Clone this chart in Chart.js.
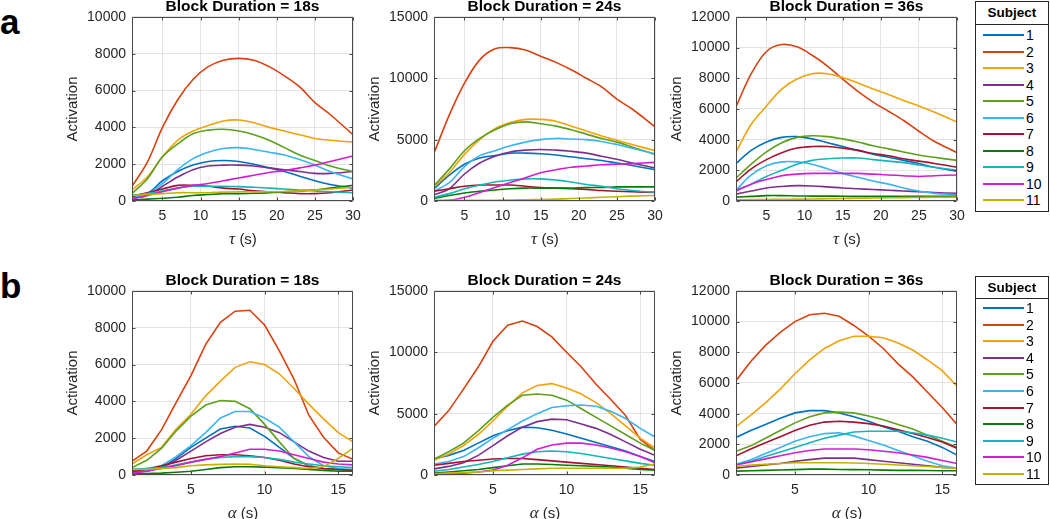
<!DOCTYPE html>
<html><head><meta charset="utf-8">
<script src="https://cdn.jsdelivr.net/npm/chart.js@4/dist/chart.umd.min.js"></script>
<style>
body{margin:0;background:#fff;width:1050px;height:519px;position:relative;overflow:hidden;font-family:'Liberation Sans',Arial,sans-serif;color:#262626}
canvas.pc{position:absolute}
.xt{position:absolute;font-size:15px;transform:translate(-50%,-50%);white-space:nowrap;line-height:1}
.xt i{font-family:'Liberation Serif','DejaVu Serif',serif;font-size:17px}
.lab{position:absolute;font-weight:bold;font-size:35px;line-height:1;left:0;color:#000}
.leg{position:absolute;left:975px;width:74px;box-sizing:border-box;border:1px solid #262626;background:#fff}
.leg .hd{position:absolute;left:0;right:0;top:0;border-bottom:1px solid #262626;text-align:center;font-weight:bold;font-size:13.5px;color:#000;box-sizing:border-box}
.leg .ln{position:absolute;left:7px;width:41px;height:2px}
.leg .tx{position:absolute;left:50px;font-size:14px;line-height:1;transform:translateY(-50%);color:#000}
</style></head>
<body>
<div class="lab" style="top:4px">a</div>
<div class="lab" style="top:268px">b</div>
<canvas class="pc" id="c0" width="357" height="230" style="left:64px;top:0px"></canvas>
<canvas class="pc" id="c1" width="357" height="230" style="left:366px;top:0px"></canvas>
<canvas class="pc" id="c2" width="357" height="230" style="left:668px;top:0px"></canvas>
<canvas class="pc" id="c3" width="357" height="230" style="left:64px;top:274px"></canvas>
<canvas class="pc" id="c4" width="357" height="230" style="left:366px;top:274px"></canvas>
<canvas class="pc" id="c5" width="357" height="230" style="left:668px;top:274px"></canvas>
<div class="xt" style="left:243px;top:238px"><i>τ</i> (s)</div>
<div class="xt" style="left:545px;top:238px"><i>τ</i> (s)</div>
<div class="xt" style="left:847px;top:238px"><i>τ</i> (s)</div>
<div class="xt" style="left:243px;top:512px"><i>α</i> (s)</div>
<div class="xt" style="left:545px;top:512px"><i>α</i> (s)</div>
<div class="xt" style="left:847px;top:512px"><i>α</i> (s)</div>
<script>
const subjects = ['1','2','3','4','5','6','7','8','9','10','11'];
const colors = ['#0072BD','#D9400F','#F0A30A','#7E2F8E','#5E9F1E','#3CB4F0','#A2142F','#0B7A0B','#16B5B8','#D21ED2','#C2B500'];
const titles = ['Block Duration = 18s','Block Duration = 24s','Block Duration = 36s'];
const tauX = [1,3,5,7,9,11,13,15,17,19,21,23,25,27,30];
const alphaX = [1,2,3,4,5,6,7,8,9,10,11,12,13,14,15,16];
const tauTicks = [5,10,15,20,25,30];
const alphaTicks = [5,10,15];
const yMax = [10000,15000,12000];
const yStep = [2000,5000,2000];

const tau18 = [
 [200,400,1100,1600,1950,2150,2200,2150,2000,1800,1600,1350,1100,900,700],
 [800,2100,4000,5500,6600,7300,7650,7750,7650,7300,6800,6200,5350,4700,3600],
 [600,1300,2400,3300,3800,4100,4350,4400,4250,4000,3800,3600,3400,3300,3200],
 [150,300,800,1300,1700,1900,1950,1950,1900,1800,1700,1600,1500,1500,1600],
 [400,1200,2400,3100,3650,3850,3900,3800,3600,3300,2900,2500,2200,1900,1600],
 [200,400,950,1700,2300,2650,2850,2900,2800,2650,2500,2250,1950,1600,1200],
 [250,450,650,850,850,800,700,650,550,500,450,400,400,450,600],
 [50,100,150,200,300,350,400,400,420,450,500,550,600,700,850],
 [300,400,550,700,800,800,800,780,750,700,650,600,550,500,450],
 [100,300,500,700,850,950,1100,1250,1400,1550,1650,1800,1950,2150,2450],
 [300,350,400,450,450,450,480,500,500,500,520,550,600,650,750]
];
const tau24 = [
 [1000,2100,3000,3500,3700,3900,3900,3850,3750,3600,3450,3300,3100,2900,2550],
 [3900,7000,9600,11500,12400,12500,12300,11800,11300,10700,10000,9300,8300,7500,6050],
 [1150,2300,3800,5000,5900,6400,6650,6650,6500,6100,5700,5300,4950,4600,4100],
 [500,1000,2200,3100,3650,4000,4150,4200,4150,4050,3900,3650,3400,3100,2700],
 [1250,2600,4100,5100,5800,6300,6450,6300,6100,5800,5450,5100,4800,4400,3800],
 [800,1500,2800,3700,4100,4500,4800,5000,5100,5050,5000,4850,4600,4300,3850],
 [800,1000,1200,1300,1300,1300,1200,1100,1050,1000,950,850,800,750,700],
 [200,450,650,800,900,1000,1050,1050,1050,1050,1100,1100,1150,1150,1150],
 [300,600,1000,1300,1550,1700,1800,1800,1700,1550,1350,1200,1000,850,700],
 [0,50,300,700,1100,1500,1900,2300,2550,2750,2850,2950,3000,3050,3150],
 [50,50,50,50,60,80,100,120,150,200,250,300,350,400,450]
];
const tau36 = [
 [2450,3300,3850,4150,4200,4050,3800,3550,3300,3050,2850,2650,2450,2200,1950],
 [6150,8300,9750,10200,10050,9500,8800,7950,7150,6450,5850,5250,4550,3900,3150],
 [3200,5000,6200,7300,7950,8300,8300,8050,7700,7300,6950,6550,6200,5800,5150],
 [450,650,850,950,1000,980,920,850,800,750,700,650,600,550,500],
 [1500,2400,3200,3800,4150,4250,4200,4050,3850,3600,3400,3200,3000,2850,2650],
 [700,1700,2300,2550,2550,2400,2100,1800,1550,1300,1100,850,650,500,400],
 [1250,2100,2700,3150,3450,3550,3550,3450,3300,3100,2950,2750,2600,2450,2200],
 [250,300,350,350,330,320,320,310,300,300,300,300,300,300,300],
 [700,1100,1600,2000,2400,2650,2750,2800,2800,2700,2600,2500,2350,2200,2000],
 [650,1100,1400,1650,1750,1800,1800,1800,1800,1750,1700,1650,1600,1650,1700],
 [80,90,100,110,120,130,150,160,180,200,210,220,230,240,250]
];
const alpha18 = [
 [200,300,400,900,1500,2000,2500,2650,2550,2100,1500,900,500,350,300,250],
 [750,1300,2450,3950,5400,7100,8300,8900,8950,8150,6750,5200,3250,2050,1200,850],
 [600,1100,1500,2500,3300,4300,5100,5850,6150,6000,5500,4700,3850,3050,2300,1800],
 [150,200,400,800,1300,1800,2250,2600,2750,2600,2300,1800,1300,950,750,750],
 [400,800,1450,2400,3200,3800,4050,4000,3600,2750,1800,900,500,350,300,250],
 [300,350,500,1000,1600,2300,3100,3450,3450,3100,2600,1800,1000,500,350,300],
 [200,300,500,700,900,1050,1100,1100,1050,950,800,600,450,350,300,250],
 [50,80,100,150,200,300,400,450,450,430,400,350,300,250,200,200],
 [300,350,400,550,700,850,950,1000,1000,950,850,700,600,500,450,400],
 [100,200,350,500,700,850,1000,1200,1400,1400,1300,1100,900,700,600,550],
 [300,300,350,400,500,550,580,600,580,500,450,400,350,450,900,1450]
];
const alpha24 = [
 [1300,1600,2000,2600,3200,3600,3900,3850,3650,3350,3000,2650,2300,1950,1500,1100],
 [3950,5250,7000,8800,10900,12200,12550,12100,11250,10000,8800,7400,6150,4850,2900,2000],
 [1200,1700,2400,3300,4400,5600,6700,7300,7450,7100,6600,5900,5000,4000,3000,2200],
 [500,700,1000,1600,2400,3200,3900,4350,4550,4500,4150,3800,3300,2700,2100,1600],
 [1300,1900,2600,3600,4700,5700,6500,6600,6500,6100,5400,4700,4000,3300,2600,2000],
 [900,1100,1500,2200,3000,3700,4400,5000,5500,5650,5700,5600,5200,4600,3800,3100],
 [800,950,1100,1200,1300,1350,1350,1250,1150,1050,950,850,750,650,550,450],
 [150,250,350,450,600,750,900,900,850,800,750,700,650,550,450,400],
 [300,450,650,850,1100,1400,1700,1900,1950,1900,1750,1550,1350,1150,950,800],
 [50,80,150,250,400,800,1400,2100,2450,2600,2600,2450,2200,1900,1500,1000],
 [100,150,200,250,350,400,450,500,550,550,550,550,550,550,650,900]
];
const alpha36 = [
 [2450,2900,3300,3700,4050,4200,4200,4050,3800,3500,3150,2850,2500,2200,1800,1300],
 [6150,7400,8450,9300,10000,10450,10550,10350,9750,9050,8250,7250,6400,5400,4400,3300],
 [3150,3900,4700,5600,6600,7500,8250,8750,9050,9050,8950,8600,8150,7500,6800,5800],
 [450,550,650,750,900,1000,1100,1100,1100,1000,900,800,700,600,500,450],
 [1550,1900,2400,2900,3400,3800,4050,4100,4050,3850,3600,3300,3000,2600,2200,1800],
 [700,1000,1400,1800,2200,2500,2700,2750,2550,2250,1950,1600,1250,900,600,450],
 [1250,1700,2100,2500,2900,3250,3450,3500,3450,3350,3200,2950,2700,2450,2150,1750],
 [250,280,300,330,350,380,380,360,350,340,320,300,300,290,280,280],
 [700,900,1200,1500,1800,2100,2400,2600,2800,2850,2850,2850,2750,2600,2400,2150],
 [650,850,1050,1250,1450,1600,1700,1700,1700,1650,1550,1450,1300,1150,950,750],
 [550,650,700,750,800,800,800,800,780,750,700,650,600,550,500,450]
];

const FONT = "'Liberation Sans', Arial, sans-serif";
const TXT = '#262626';
const GRID = '#e4e4e4';
const AXC = '#4a4a4a';

const boxPlugin = {
  id: 'box',
  afterDatasetsDraw(chart) {
    const {ctx, chartArea: a} = chart;
    const xs = chart.scales.x, ys = chart.scales.y;
    ctx.save();
    ctx.strokeStyle = AXC; ctx.lineWidth = 1;
    const L = Math.round(a.left) + 0.5, R = Math.round(a.right) - 0.5;
    const T = Math.round(a.top) + 0.5, B = Math.round(a.bottom) - 0.5;
    ctx.beginPath();
    ctx.rect(L, T, R - L, B - T);
    xs.ticks.forEach(t => { const p = Math.round(xs.getPixelForValue(t.value)) + 0.5;
      ctx.moveTo(p, B); ctx.lineTo(p, B - 3); ctx.moveTo(p, T); ctx.lineTo(p, T + 3); });
    ys.ticks.forEach(t => { const p = Math.round(ys.getPixelForValue(t.value)) + 0.5;
      ctx.moveTo(L, p); ctx.lineTo(L + 3, p); ctx.moveTo(R, p); ctx.lineTo(R - 3, p); });
    ctx.stroke();
    ctx.restore();
  }
};

function makeChart(id, xs, rows, xMin, xMax, xTicks, ymax, ystep, title, tension) {
  const datasets = rows.map((r, i) => ({
    label: subjects[i],
    data: r.map((v, j) => ({x: xs[j], y: v})),
    borderColor: colors[i], backgroundColor: colors[i],
    borderWidth: 1.6, pointRadius: 0, tension: tension, fill: false,
    order: subjects.length - i
  }));
  new Chart(document.getElementById(id), {
    type: 'line',
    data: {datasets},
    options: {
      responsive: false, animation: false,
      layout: {padding: 0},
      plugins: {
        legend: {display: false}, tooltip: {enabled: false},
        title: {display: true, text: title, color: '#000',
          font: {family: FONT, size: 15.5, weight: 'bold', lineHeight: 0.92},
          padding: {top: 0, bottom: 2.7}}
      },
      scales: {
        x: {type: 'linear', min: xMin, max: xMax,
          afterBuildTicks: s => { s.ticks = xTicks.map(v => ({value: v})); },
          afterFit: s => { s.height = 29; },
          grid: {color: GRID, drawTicks: false}, border: {display: false},
          ticks: {color: TXT, font: {family: FONT, size: 14}, padding: 7, maxRotation: 0, autoSkip: false}},
        y: {type: 'linear', position: 'left', min: 0, max: ymax,
          afterFit: s => { s.width = 68; },
          grid: {color: GRID, drawTicks: false}, border: {display: false},
          ticks: {stepSize: ystep, color: TXT, font: {family: FONT, size: 14}, padding: 6, callback: v => String(v)},
          title: {display: true, text: 'Activation', color: TXT, font: {family: FONT, size: 15}, padding: 0}},
        yr: {type: 'linear', position: 'right', min: 0, max: ymax,
          afterFit: s => { s.width = 68; },
          grid: {display: false, drawTicks: false}, border: {display: false},
          ticks: {display: false}}
      }
    },
    plugins: [boxPlugin]
  });
}

const tauSets = [tau18, tau24, tau36];
const alphaSets = [alpha18, alpha24, alpha36];
for (let k = 0; k < 3; k++) {
  makeChart('c' + k, tauX, tauSets[k], 1, 30, tauTicks, yMax[k], yStep[k], titles[k], 0.35);
  makeChart('c' + (k + 3), alphaX, alphaSets[k], 1, 16, alphaTicks, yMax[k], yStep[k], titles[k], 0);
}

function buildLegend(top, height, sepY, firstY, step) {
  const box = document.createElement('div');
  box.className = 'leg';
  box.style.top = top + 'px'; box.style.height = height + 'px';
  const hd = document.createElement('div');
  hd.className = 'hd'; hd.textContent = 'Subject';
  hd.style.height = sepY + 'px'; hd.style.lineHeight = (sepY - 1) + 'px';
  box.appendChild(hd);
  subjects.forEach((s, i) => {
    const y = firstY + step * i;
    const ln = document.createElement('div');
    ln.className = 'ln'; ln.style.background = colors[i]; ln.style.top = (y - 1) + 'px';
    const tx = document.createElement('div');
    tx.className = 'tx'; tx.textContent = s; tx.style.top = y + 'px';
    box.appendChild(ln); box.appendChild(tx);
  });
  document.body.appendChild(box);
}
buildLegend(1, 211, 23, 33, 16.5);
buildLegend(276, 209, 22, 31, 16.6);
</script>
</body></html>
